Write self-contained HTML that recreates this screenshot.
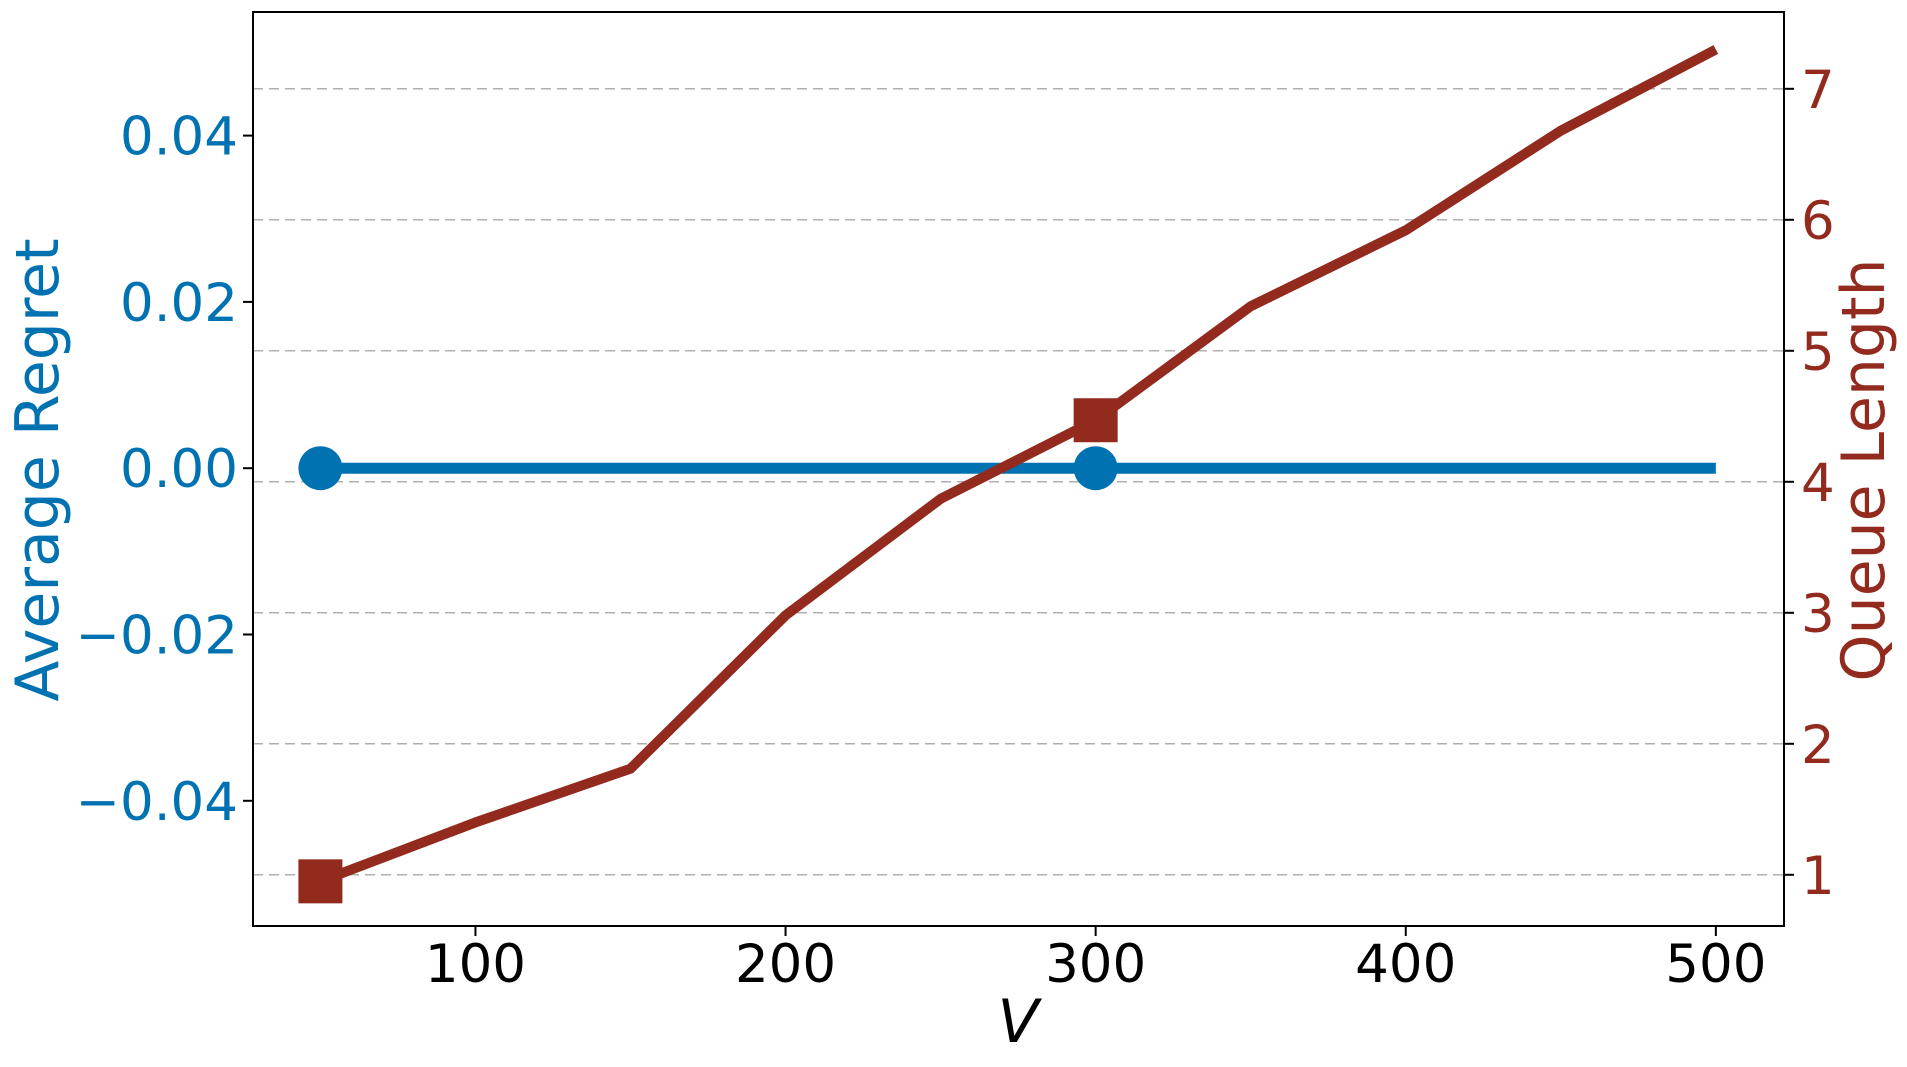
<!DOCTYPE html>
<html><head><meta charset="utf-8"><style>
html,body{margin:0;padding:0;background:#fff;}
svg{display:block;font-family:"DejaVu Sans","Liberation Sans",sans-serif;}
</style></head><body>
<svg id="chart" width="1907" height="1067" viewBox="0 0 1907 1067" xmlns="http://www.w3.org/2000/svg">
<g id="grid"></g>
<g id="series"></g>
<rect x="253" y="12" width="1531" height="914" fill="none" stroke="#000" stroke-width="2"/>
<g id="axes"></g>
<text transform="translate(58,470) rotate(-90)" text-anchor="middle" font-size="60" fill="#0072B2">Average Regret</text>
<text transform="translate(1884,470) rotate(-90)" text-anchor="middle" font-size="60" fill="#932A1E">Queue Length</text>
<text x="1018" y="1042" text-anchor="middle" font-size="60" font-style="italic" fill="#000">V</text>
</svg>
<script>
const xValues=[50,100,150,200,250,300,350,400,450,500];
const regretValues=[0,0,0,0,0,0,0,0,0,0];
const queueValues=[0.95,1.40,1.81,2.98,3.87,4.47,5.34,5.92,6.68,7.30];
const markerIdx=[0,5];
const xTicks=[100,200,300,400,500];
const leftTicks=[0.04,0.02,0.00,-0.02,-0.04];
const leftTickLabels=["0.04","0.02","0.00","\u22120.02","\u22120.04"];
const rightTicks=[1,2,3,4,5,6,7];

const NS="http://www.w3.org/2000/svg";
const X=v=>320.4+(v-50)*3.101;
const YL=v=>468.2-v*8315;
const YR=v=>88.8+(7-v)*131;
function mk(tag,attrs,parent,text){const e=document.createElementNS(NS,tag);for(const k in attrs)e.setAttribute(k,attrs[k]);if(text!==undefined)e.textContent=text;parent.appendChild(e);return e;}
const grid=document.getElementById('grid'),axes=document.getElementById('axes'),series=document.getElementById('series');
rightTicks.forEach(t=>{
  const g=mk('line',{x1:253,x2:1784,y1:YR(t),y2:YR(t),stroke:'#b0b0b0','stroke-width':1.5,'stroke-dasharray':'10,6'},grid);
  
  
  const tk=mk('line',{x1:1784,x2:1794,y1:YR(t),y2:YR(t),stroke:'#000','stroke-width':2},axes);
  
  
  const l=mk('text',{x:1801,y:YR(t)+19,'font-size':53,fill:'#932A1E'},axes,String(t));
  
  
});
leftTicks.forEach((t,i)=>{
  const tk=mk('line',{x1:243,x2:253,y1:YL(t),y2:YL(t),stroke:'#000','stroke-width':2},axes);
  
  
  const l=mk('text',{x:238,y:YL(t)+19,'font-size':53,fill:'#0072B2','text-anchor':'end'},axes,leftTickLabels[i]);
  
  
});
xTicks.forEach(t=>{
  const tk=mk('line',{x1:X(t),x2:X(t),y1:926,y2:936,stroke:'#000','stroke-width':2},axes);
  
  
  const l=mk('text',{x:X(t),y:982,'font-size':53,fill:'#000','text-anchor':'middle'},axes,String(t));
  
  
});
const bl=mk('polyline',{points:xValues.map((x,i)=>X(x)+','+YL(regretValues[i])).join(' '),fill:'none',stroke:'#0072B2','stroke-width':11},series);


const rl=mk('polyline',{points:xValues.map((x,i)=>X(x)+','+YR(queueValues[i])).join(' '),fill:'none',stroke:'#932A1E','stroke-width':10,'stroke-linejoin':'round'},series);


markerIdx.forEach(i=>{
  const c=mk('circle',{cx:X(xValues[i]),cy:YL(regretValues[i]),r:22,fill:'#0072B2'},series);
  
  
  const s=mk('rect',{x:X(xValues[i])-22,y:YR(queueValues[i])-22,width:44,height:44,fill:'#932A1E'},series);
  
  
});
</script>
</body></html>
